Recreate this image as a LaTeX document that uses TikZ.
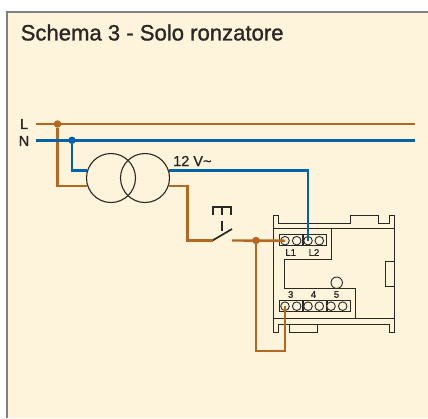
\documentclass[tikz,border=0pt]{standalone}
\usepackage{fontspec}
\setmainfont{Liberation Sans}
\newfontfamily\medfont[FakeBold=1.2]{Liberation Sans}
\usetikzlibrary{positioning}
\definecolor{panelbg}{HTML}{FEF4DC}
\definecolor{wirebrown}{HTML}{B5671F}
\definecolor{wireblue}{HTML}{0062A8}
\definecolor{inkdark}{HTML}{2A2725}
\tikzstyle{wireL}=[draw=wirebrown,line width=2.4pt,line join=miter]
\tikzstyle{wireN}=[draw=wireblue,line width=2.4pt,line join=miter]
\tikzstyle{casing}=[draw=inkdark,line width=0.9pt]
\tikzstyle{coil}=[draw=inkdark,circle,line width=1.1pt,minimum size=49pt,inner sep=0]
\tikzstyle{Ldot}=[fill=wirebrown,circle,minimum size=7.5pt,inner sep=0]
\tikzstyle{Ndot}=[fill=wireblue,circle,minimum size=7.5pt,inner sep=0]
\tikzstyle{clamp}=[draw=inkdark,fill=panelbg,circle,line width=0.9pt,minimum size=8.6pt,inner sep=0]
\tikzstyle{clampbox}=[draw=inkdark,line width=0.9pt,minimum width=23pt,minimum height=11.4pt,inner sep=0]
\tikzstyle{lab}=[text=inkdark,inner sep=0]
\tikzstyle{push}=[draw=inkdark,line width=1.7pt]
\begin{document}
\begin{tikzpicture}[x=1pt,y=-1pt]
\path[use as bounding box] (0,0) rectangle (428,418);
\fill[panelbg] (7,12) rectangle (428,418);
\draw[gray,line width=1.4pt] (7,418) -- (7,12) -- (428,12);

\node[lab,anchor=west,font=\fontsize{22.1}{24}\medfont] (title) at (20.5,32.5) {Schema 3 - Solo ronzatore};
\node[lab,font=\fontsize{14.5}{16}\medfont] (Ltext) at (24,124) {L};
\node[lab,font=\fontsize{14.5}{16}\medfont] (Ntext) at (24,141) {N};
\node[lab,anchor=west,font=\fontsize{14.5}{16}\medfont] (Vtext) at (173,161) {12 V\char"007E};

\coordinate (Lstart) at (36,124);
\coordinate (Lend) at (415,124);
\coordinate (Nstart) at (36,140.3);
\coordinate (Nend) at (415,140.3);
\node[Ldot] (Ld) at (57.5,124) {};
\node[Ndot] (Nd) at (72,140.3) {};
\node[Ldot] (Kd) at (256,240.5) {};

\node[coil] (prim) at (111,178) {};
\node[coil] (sec) at (145,178) {};

% device
\draw[casing] (273.3,228.7) -- (394.3,228.7);
\draw[casing] (273.3,318.3) -- (394.3,318.3);
\draw[casing] (273.3,332) -- (273.3,215.3) -- (278.3,215.3) -- (278.3,223.3) -- (350.3,223.3) -- (350.3,215.3) -- (378,215.3) -- (378,223.3) -- (389.7,223.3) -- (389.7,215.3) -- (394.3,215.3) -- (394.3,332) -- (389.7,332) -- (389.7,324) -- (278.3,324) -- (278.3,332) -- cycle;
\draw[casing] (289.7,324) -- (289.7,332) -- (317.3,332) -- (317.3,324);
\draw[casing] (394.3,261.3) -- (385.7,261.3) -- (385.7,286) -- (394.3,286);
\draw[casing] (331.3,228.7) -- (331.3,259.3) -- (284,259.3) -- (284,288.3) -- (355.7,288.3) -- (355.7,318.3);
\node[clamp,minimum size=11.4pt] (lamp) at (336.7,282.7) {};

\node[clampbox] (boxA) at (291,240.2) {};
\node[clampbox,right=0pt of boxA] (boxB) {};
\node[clampbox] (boxC) at (291,306.2) {};
\node[clampbox,right=0pt of boxC] (boxD) {};
\node[clampbox,right=0pt of boxD] (boxE) {};
\foreach \n/\x in {a/285,b/296.7,c/308,d/319.3}
  \node[clamp] (top\n) at (\x,240.7) {};
\foreach \n/\x in {a/285,b/296.7,c/308,d/319.3,e/331,f/342.7}
  \node[clamp] (bot\n) at (\x,306.2) {};

\foreach \n/\t/\x/\y in {L1/L1/290.7/252.5,L2/L2/314/252.5,three/3/290.7/294.5,four/4/313.5/294.5,five/5/336.5/294.5}
  \node[lab,font=\fontsize{9.5}{10}\medfont] (lab\n) at (\x,\y) {\t};

% switch
\coordinate (swA) at (212.5,240.5);
\coordinate (swB) at (232,229);
\coordinate (swC) at (232,240.5);
\coordinate (btnA) at (213.3,215);
\coordinate (btnB) at (231,215);
\coordinate (btnC) at (222,206.7);
\coordinate (btnD) at (222,215);
\coordinate (btnE) at (222,220.7);
\coordinate (btnF) at (222,230.7);
\draw[push] (swA) -- (swB);
\draw[push] (btnA) |- (btnC) -| (btnB);
\draw[push] (btnC) -- (btnD) (btnE) -- (btnF);

% wires
\path[wireL]
  (Lstart) edge (Lend)
  (Ld) edge[to path={|- (\tikztotarget)}] (prim.199)
  (sec.-19) edge[to path={-| (187.5,240.5) -- (\tikztotarget)}] (swA)
  (swC) edge (topa.center)
  (Kd) edge[to path={|- (285,350.7) -- (\tikztotarget)}] (bota.center)
;
\path[wireN]
  (Nstart) edge (Nend)
  (Nd) edge[to path={|- (\tikztotarget)}] (prim.163)
  (sec.17) edge[to path={-| (\tikztotarget)}] (topc.center)
;
\end{tikzpicture}
\end{document}
